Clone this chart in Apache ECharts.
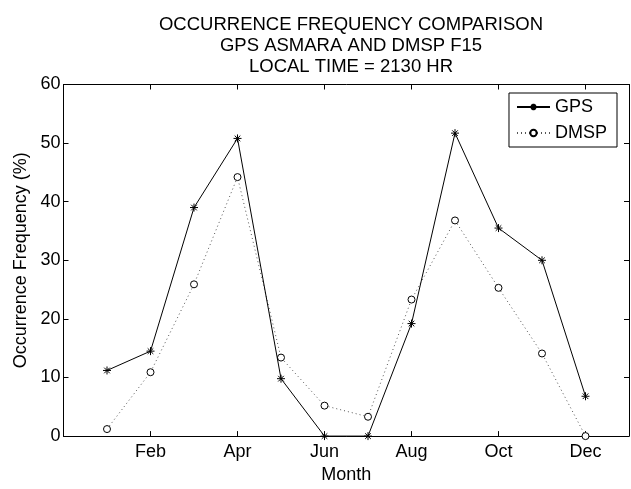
<!DOCTYPE html>
<html>
<head>
<meta charset="utf-8">
<script src="https://cdn.jsdelivr.net/npm/echarts@6/dist/echarts.min.js"></script>
<style>
html,body{margin:0;padding:0;background:#fff;}
#chart{width:631px;height:489px;}
</style>
</head>
<body>
<div id="chart"></div>
<script>
// Data
const monthNumbers = [1,2,3,4,5,6,7,8,9,10,11,12];
const gpsValues  = [11.2, 14.5, 39.0, 50.8, 9.8, 0.0, 0.0, 19.2, 51.7, 35.5, 30.0, 6.8];
const dmspValues = [1.2, 10.9, 25.9, 44.2, 13.4, 5.2, 3.3, 23.3, 36.8, 25.3, 14.1, 0.0];
const tickPositions = [2,4,6,8,10,12];
const tickLabels = ['Feb','Apr','Jun','Aug','Oct','Dec'];
const yTicks = [0,10,20,30,40,50,60];
const titleLines = ['OCCURRENCE FREQUENCY COMPARISON','GPS ASMARA AND DMSP F15','LOCAL TIME = 2130 HR'];

const FONT = 'Liberation Sans, Arial, Helvetica, sans-serif';
const gpsData = monthNumbers.map((m,i)=>[m,gpsValues[i]]);
const dmspData = monthNumbers.map((m,i)=>[m,dmspValues[i]]);
const asterisk = 'path://M-4,0L4,0M0,-4L0,4M-2.8,-2.8L2.8,2.8M-2.8,2.8L2.8,-2.8';
const ring = 'path://M4,0A4,4,0,1,1,-4,0A4,4,0,1,1,4,0Z';

function xLabel(v){
  const k = tickPositions.indexOf(v);
  return k >= 0 ? tickLabels[k] : '';
}

const chart = echarts.init(document.getElementById('chart'), null, {renderer:'canvas'});
const axisCommon = {
  axisLine:{show:true,onZero:false,lineStyle:{color:'#000',width:1}},
  axisTick:{show:true,inside:true,length:5,lineStyle:{color:'#000',width:1}},
  splitLine:{show:false}
};
chart.setOption({
  animation:false,
  backgroundColor:'#fff',
  textStyle:{fontFamily:FONT},
  title:{
    text:titleLines.join('\n'),
    left:346, textAlign:'center', top:9,
    textStyle:{fontFamily:FONT,fontSize:18.5,fontWeight:'normal',color:'#000',lineHeight:21}
  },
  grid:{left:63.5,right:2,top:84.5,bottom:43,containLabel:false},
  legend:{
    right:14, top:93, orient:'vertical',
    itemWidth:33, itemHeight:8, itemGap:8,
    padding:[5,10,5,7],
    borderColor:'#000', borderWidth:1, backgroundColor:'#fff',
    textStyle:{fontFamily:FONT,fontSize:18,color:'#000',padding:[0,0,0,0]},
    data:['GPS','DMSP']
  },
  xAxis:[
    Object.assign({}, axisCommon, {
      type:'value', min:0, max:13, interval:2, position:'bottom',
      name:'Month', nameLocation:'middle', nameGap:25,
      nameTextStyle:{fontFamily:FONT,fontSize:18,color:'#000'},
      axisLabel:{show:true,margin:7,color:'#000',fontFamily:FONT,fontSize:18,formatter:xLabel,showMaxLabel:false}
    }),
    Object.assign({}, axisCommon, {
      type:'value', min:0, max:13, interval:2, position:'top',
      axisLabel:{show:false}
    })
  ],
  yAxis:[
    Object.assign({}, axisCommon, {
      type:'value', min:0, max:60, interval:10, position:'left',
      name:'Occurrence Frequency (%)', nameLocation:'middle', nameGap:33,
      nameTextStyle:{fontFamily:FONT,fontSize:18,color:'#000'},
      axisLabel:{show:true,margin:3,color:'#000',fontFamily:FONT,fontSize:18,
        formatter:v=> yTicks.indexOf(v)>=0 ? String(v) : ''}
    }),
    Object.assign({}, axisCommon, {
      type:'value', min:0, max:60, interval:10, position:'right',
      axisLabel:{show:false}
    })
  ],
  series:[
    {
      name:'GPS', type:'line', data:gpsData, clip:false,
      symbol:asterisk, symbolSize:8, showAllSymbol:true,
      lineStyle:{color:'#000',width:1,type:'solid'},
      itemStyle:{color:'#000',borderColor:'#000',borderWidth:1},
      z:3
    },
    {
      name:'DMSP', type:'line', data:dmspData, clip:false,
      symbol:ring, symbolSize:7, showAllSymbol:true,
      lineStyle:{color:'#555',width:1,type:[1,3]},
      itemStyle:{color:'#fff',borderColor:'#000',borderWidth:1},
      z:2
    }
  ]
});
</script>
</body>
</html>
